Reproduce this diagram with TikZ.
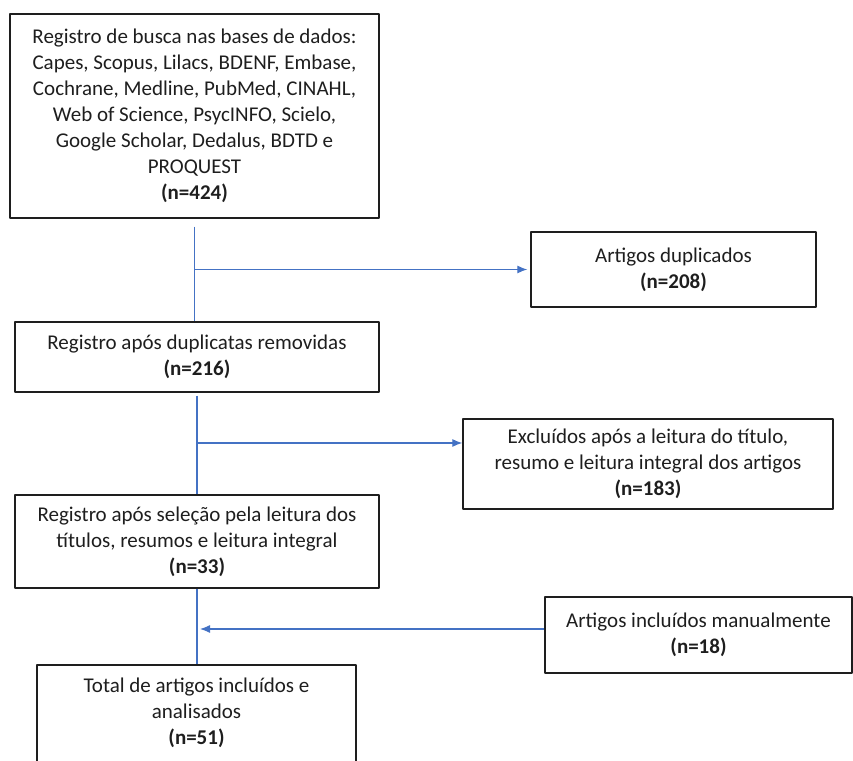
\documentclass[tikz,border=0pt]{standalone}
\usepackage{fontspec}
\setmainfont{Carlito}
\usetikzlibrary{arrows.meta}
\definecolor{flowblue}{RGB}{68,114,196}
\definecolor{inkgray}{RGB}{30,30,30}
\tikzset{
  stagebox/.style={draw=inkgray,line width=1.3bp,text=inkgray,align=center,inner sep=0pt,
    font=\fontsize{21bp}{26bp}\selectfont},
  flowline/.style={flowblue,line width=1.2bp},
}
\begin{document}
\begin{tikzpicture}[>={Latex[length=10bp,width=8bp]},line join=bevel,]
\useasboundingbox (0bp,0bp) rectangle (853bp,761bp);
%%
\node (busca) at (194.5bp,645bp) [stagebox,minimum width=369bp,minimum height=204bp] {Registro de busca nas bases de dados:\\ Capes, Scopus, Lilacs, BDENF, Embase,\\ Cochrane, Medline, PubMed, CINAHL,\\ Web of Science, PsycINFO, Scielo,\\ Google Scholar, Dedalus, BDTD e\\ PROQUEST\\ \textbf{(n=424)}};
  \node (duplicados) at (673.5bp,491.5bp) [stagebox,minimum width=285bp,minimum height=75bp] {Artigos duplicados\\ \textbf{(n=208)}};
  \node (unicos) at (197bp,404bp) [stagebox,minimum width=364bp,minimum height=70bp] {Registro após duplicatas removidas\\ \textbf{(n=216)}};
  \node (excluidos) at (648bp,297bp) [stagebox,minimum width=370bp,minimum height=90bp] {Excluídos após a leitura do título,\\ resumo e leitura integral dos artigos\\ \textbf{(n=183)}};
  \node (selecionados) at (197bp,219.5bp) [stagebox,minimum width=364bp,minimum height=93bp] {Registro após seleção pela leitura dos\\ títulos, resumos e leitura integral\\ \textbf{(n=33)}};
  \node (manuais) at (698.5bp,126bp) [stagebox,minimum width=307bp,minimum height=76bp] {Artigos incluídos manualmente\\ \textbf{(n=18)}};
  \node (total) at (196.5bp,37bp) [stagebox,minimum width=319bp,minimum height=118bp] {Total de artigos incluídos e\\ analisados\\ \textbf{(n=51)}\\ \mbox{}};
  \coordinate (corte) at (197bp,318bp);
  \draw [flowline] ([yshift=-8bp]busca.south) -- (busca.south |- unicos.north);
  \draw [flowline,->] (busca.south |- duplicados.west) -- ([xshift=-3bp]duplicados.west);
  \draw [flowline] ([yshift=-3bp]unicos.south) -- (unicos.south |- selecionados.north);
  \draw [flowline,->] (corte) -- (corte -| excluidos.west);
  \draw [flowline] (selecionados.south) -- (selecionados.south |- total.north);
  \draw [flowline,->] ([yshift=6bp]manuais.west) -- ([xshift=3bp,yshift=6bp]selecionados.south |- manuais.west);
%
\end{tikzpicture}
\end{document}
